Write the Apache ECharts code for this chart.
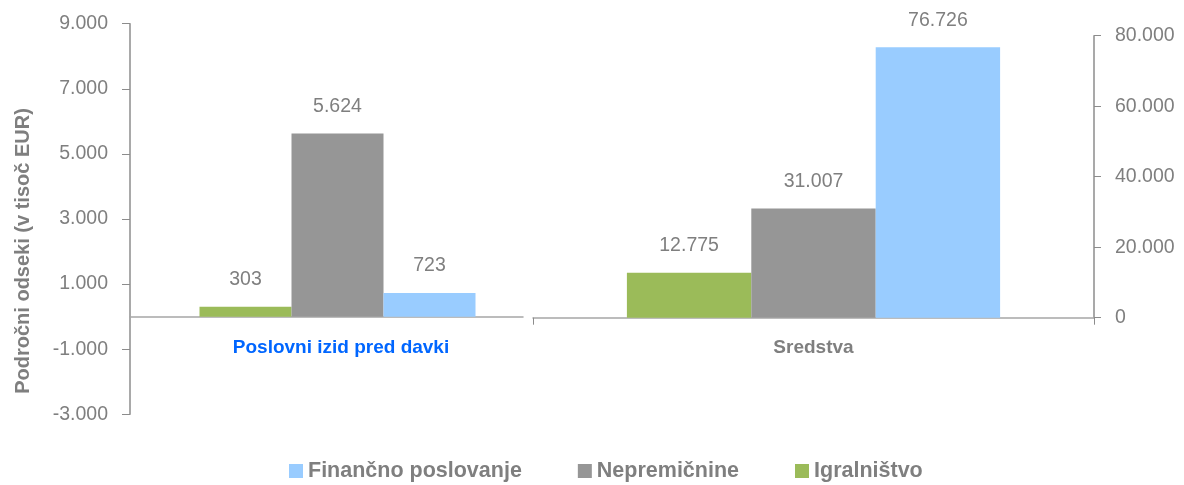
<!DOCTYPE html>
<html>
<head>
<meta charset="utf-8">
<script src="https://cdn.jsdelivr.net/npm/echarts@6/dist/echarts.min.js"></script>
<style>
  html, body { margin: 0; padding: 0; background: #fff; }
  #chart { width: 1184px; height: 485px; }
</style>
</head>
<body>
<div id="chart"></div>
<script>
// podatki
var categories = ['Poslovni izid pred davki', 'Sredstva']
var segments = ['Igralništvo', 'Nepremičnine', 'Finančno poslovanje']
var legendOrder = ['Finančno poslovanje', 'Nepremičnine', 'Igralništvo']
var profitValues = [303, 5624, 723]       // levo os, v tisoč EUR
var assetValues = [12775, 31007, 76726]   // desna os, v tisoč EUR
var colors = ['#9bbb59', '#969696', '#99ccff']

var FONT = "'Liberation Sans', Arial, sans-serif"
var GREY = '#7f7f7f'

function fmt(v) {
  var s = Math.abs(v).toString().replace(/\B(?=(\d{3})+(?!\d))/g, '.')
  return (v < 0 ? '-' : '') + s
}

var chart = echarts.init(document.getElementById('chart'))

var series = []
// prazen stolpec za zamik leve skupine
series.push({
  name: '_pad', type: 'bar', xAxisIndex: 0, yAxisIndex: 0,
  barWidth: 22, barGap: '0%', data: [null], silent: true
})
segments.forEach(function (name, i) {
  series.push({
    name: name, type: 'bar', xAxisIndex: 0, yAxisIndex: 0,
    barWidth: 92, barGap: '0%',
    itemStyle: { color: colors[i] },
    label: {
      show: true, position: 'top', distance: 17,
      color: GREY, fontFamily: FONT, fontSize: 19.5,
      formatter: function (p) { return fmt(p.value) }
    },
    data: [profitValues[i]]
  })
})
segments.forEach(function (name, i) {
  series.push({
    name: name, type: 'bar', xAxisIndex: 1, yAxisIndex: 1,
    barWidth: 124.4, barGap: '0%',
    itemStyle: { color: colors[i] },
    label: {
      show: true, position: 'top', distance: 17,
      color: GREY, fontFamily: FONT, fontSize: 19.5,
      formatter: function (p) { return fmt(p.value) }
    },
    data: [assetValues[i]]
  })
})

var option = {
  animation: false,
  backgroundColor: '#fff',
  textStyle: { fontFamily: FONT },
  legend: {
    data: legendOrder,
    left: 284, top: 455,
    icon: 'rect', itemWidth: 14, itemHeight: 14, itemGap: 56,
    textStyle: { color: GREY, fontFamily: FONT, fontSize: 21.5, fontWeight: 'bold' }
  },
  grid: [
    { left: 130, right: 661, top: 23.7, bottom: 70.7, containLabel: false },
    { left: 533, right: 90, top: 35.7, bottom: 167.3, containLabel: false }
  ],
  xAxis: [
    {
      type: 'category', gridIndex: 0, data: [categories[0]],
      axisLine: { onZero: true, lineStyle: { color: '#a6a6a6', width: 1.5 } },
      axisTick: { show: false },
      axisLabel: {
        margin: -76, color: '#0066ff', fontFamily: FONT, fontSize: 19, fontWeight: 'bold',
        padding: [0, 0, 0, 29]
      }
    },
    {
      type: 'category', gridIndex: 1, data: [categories[1]],
      axisLine: { lineStyle: { color: '#a6a6a6', width: 1.5 } },
      axisTick: { show: true, length: 7, lineStyle: { color: '#8c8c8c' } },
      axisLabel: {
        margin: 21, color: GREY, fontFamily: FONT, fontSize: 19, fontWeight: 'bold'
      }
    }
  ],
  yAxis: [
    {
      type: 'value', gridIndex: 0, min: -3000, max: 9000, interval: 2000,
      axisLine: { show: true, lineStyle: { color: '#8c8c8c', width: 1.5 } },
      axisTick: { show: true, length: 8, lineStyle: { color: '#8c8c8c' } },
      splitLine: { show: false },
      axisLabel: { margin: 22, color: GREY, fontFamily: FONT, fontSize: 19.5, formatter: fmt }
    },
    {
      type: 'value', gridIndex: 1, position: 'right', min: 0, max: 80000, interval: 20000,
      axisLine: { show: true, lineStyle: { color: '#8c8c8c', width: 1.5 } },
      axisTick: { show: true, length: 7, lineStyle: { color: '#8c8c8c' } },
      splitLine: { show: false },
      axisLabel: { margin: 21, color: GREY, fontFamily: FONT, fontSize: 19.5, formatter: fmt }
    }
  ],
  graphic: [{
    type: 'text', x: 23, y: 251, rotation: Math.PI / 2,
    style: {
      text: 'Področni odseki (v tisoč EUR)', fill: GREY,
      font: 'bold 20px ' + FONT, align: 'center', verticalAlign: 'middle'
    }
  }],
  series: series
}

chart.setOption(option)
</script>
</body>
</html>
